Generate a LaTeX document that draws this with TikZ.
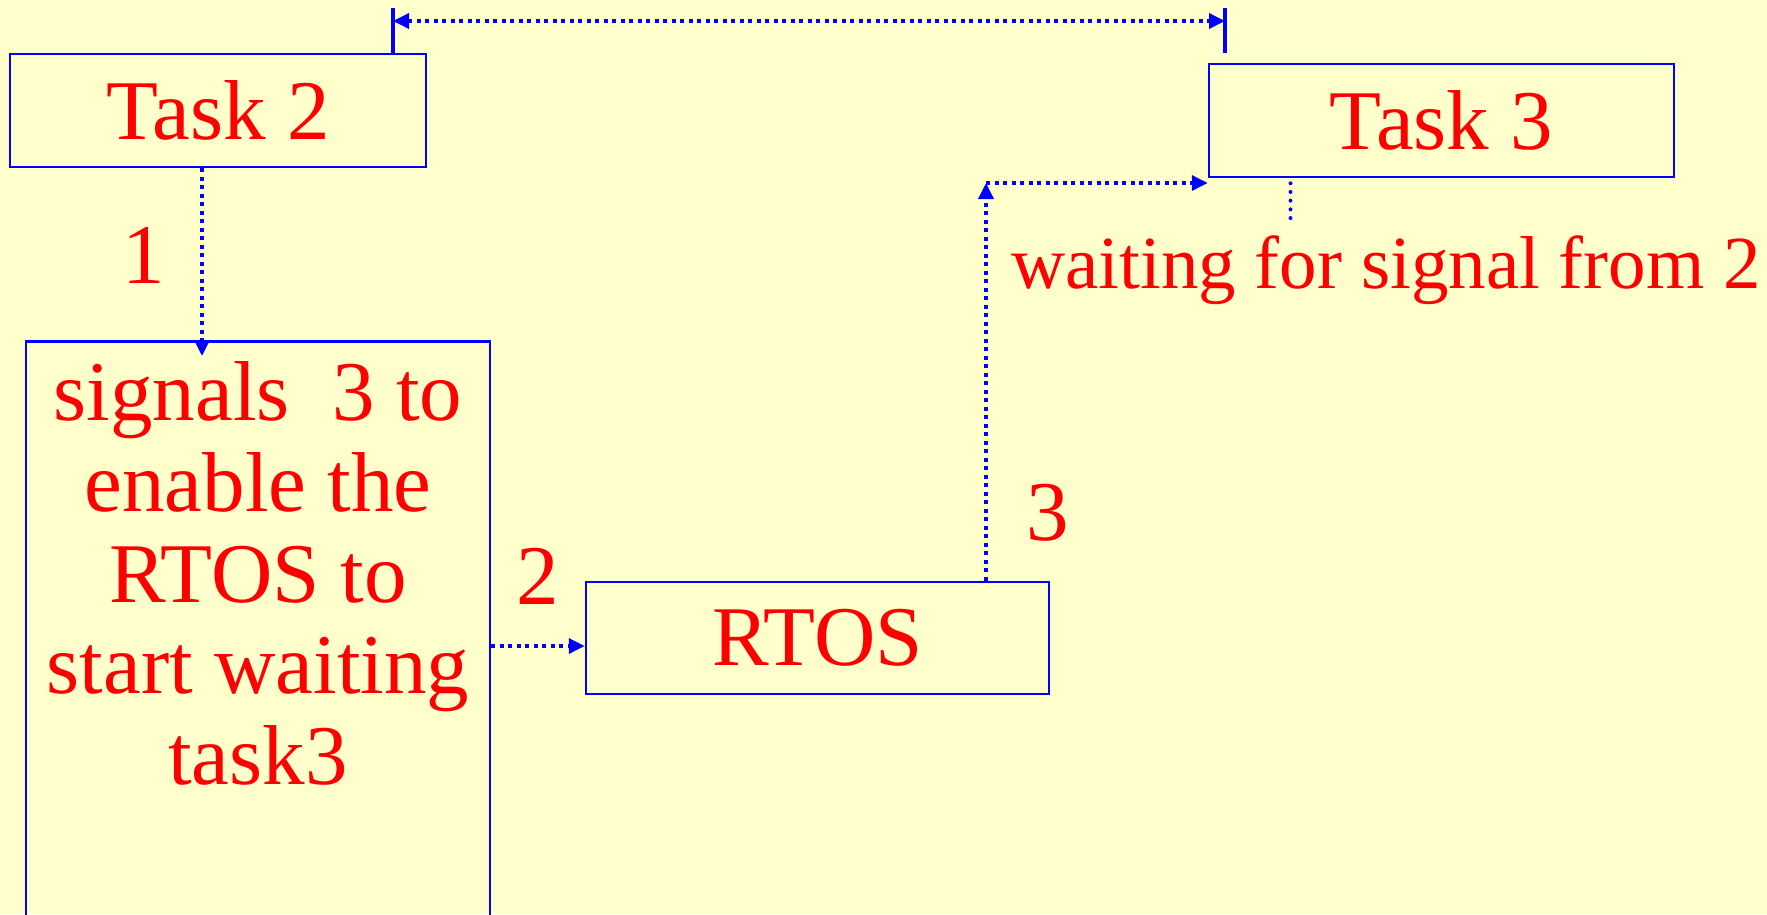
\documentclass[tikz,border=0pt]{standalone}
\usepackage{fontspec}
\setmainfont{Liberation Serif}
\usetikzlibrary{arrows.meta}
\definecolor{slideyellow}{HTML}{FFFFCC}
\definecolor{linkblue}{HTML}{0000FF}
\definecolor{labelred}{HTML}{FF0000}

\begin{document}
\begin{tikzpicture}[
						x=1pt, y=-1pt,
						every node/.style={text=labelred, font=\fontsize{85}{91}\selectfont},
						taskbox/.style={draw=linkblue, line width=2.5pt, inner sep=0pt, minimum height=113pt},
						signal/.style={draw=linkblue, line width=3.5pt, dash pattern=on 4pt off 4.5pt},
						tip/.style={-{Triangle[length=16pt, width=15pt]}},
						line cap=butt
						]
						
						% Slide background
						\fill[slideyellow] (0,0) rectangle (1767,914);
						\useasboundingbox (0,0) rectangle (1767,914);
						
						% Boxes
						\node[taskbox, minimum width=416pt] (task2) at (218,110.5) {Task 2};
						\node[taskbox, minimum width=465pt] (task3) at (1441.5,120.5) {Task 3};
						\node[taskbox, minimum width=463pt, minimum height=112pt] (rtos) at (817.5,638) {RTOS};
						\node[taskbox, minimum width=464pt, minimum height=620pt, anchor=north] (signalbox) at (258,340) {};
						\node[align=center, anchor=north, inner sep=0pt] (signaltext) at (258,361)
						{signals\ \ 3 to\\enable the\\RTOS to\\start waiting\\task3};
						
						% Step numbers
						\node (one) at (144,255) {1};
						\node (two) at (538,576) {2};
						\node (three) at (1048,513) {3};
						\node[font=\fontsize{75}{80}\selectfont, anchor=base] (waittext) at (1386,288) {waiting for signal from 2};
						
						% Span marks over the tasks
						\coordinate (spanL) at (393,8);
						\coordinate (spanR) at (1225,8);
						\draw[linkblue, line width=4pt] (spanL) -- (spanL |- task2.north);
						\draw[linkblue, line width=4pt] (spanR) -- ++(0,45);
						\draw[signal, {Triangle[length=16pt, width=15pt]}-{Triangle[length=16pt, width=15pt]}]
						([yshift=-13pt]spanL) -- ([yshift=-13pt]spanR);
						
						% Signal path
						\draw[signal, tip, shorten >=-16pt] ([xshift=-16pt]task2.south) -- ([xshift=-16pt]task2.south |- signalbox.north);
						\draw[signal, tip] ([yshift=-8pt]rtos.west -| signalbox.east) -- ([yshift=-8pt]rtos.west);
						\coordinate (bend) at (986,183);
						\draw[signal, tip] (bend |- rtos.north) -- (bend);
						\draw[signal, tip] (bend) -- (bend -| task3.west);
						
						% waiting link
						\draw[linkblue, line width=4pt, line cap=round, dash pattern=on 0pt off 8.7pt, shorten <=5pt]
						([xshift=-151pt]task3.south) -- ++(0,48);
						
					\end{tikzpicture}
\end{document}
